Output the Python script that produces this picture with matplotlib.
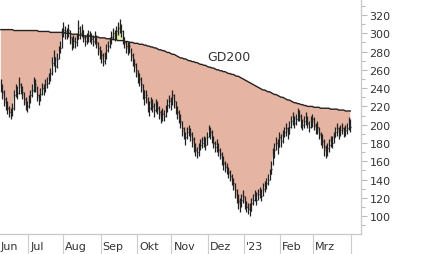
import numpy as np
import pandas as pd
import matplotlib
matplotlib.use("Agg")
import matplotlib.pyplot as plt
from matplotlib.ticker import MultipleLocator

# trading days shown in the chart
dates = pd.bdate_range("2022-06-08", "2023-03-31")

close = [242, 236, 228, 222, 218, 214, 212, 218, 232, 238,
         235, 244, 240, 236, 228, 222, 220, 226, 232, 238,
         246, 244, 232, 228, 234, 240, 238, 244, 246, 250,
         256, 268, 274, 264, 272, 280, 284, 298, 304, 302,
         300, 304, 296, 288, 292, 290, 294, 306, 300, 304,
         296, 292, 294, 298, 296, 294, 292, 296, 290, 284,
         278, 276, 270, 274, 282, 286, 290, 296, 300, 298,
         302, 306, 310, 302, 296, 290, 286, 282, 286, 276,
         272, 266, 260, 252, 250, 244, 238, 230, 232, 222,
         218, 224, 220, 216, 222, 218, 214, 208, 212, 210,
         216, 222, 226, 224, 232, 226, 218, 214, 210, 204,
         196, 190, 186, 192, 194, 190, 184, 178, 172, 170,
         174, 178, 180, 182, 178, 186, 194, 192, 186, 180,
         176, 178, 172, 168, 164, 158, 154, 152, 148, 144,
         140, 136, 128, 122, 116, 112, 118, 122, 114, 110,
         108, 106, 114, 118, 122, 118, 124, 126, 122, 130,
         132, 136, 140, 146, 152, 168, 172, 180, 176, 186,
         182, 188, 192, 196, 190, 198, 204, 208, 202, 206,
         212, 210, 204, 200, 204, 208, 202, 198, 204, 206,
         200, 196, 198, 190, 186, 182, 176, 170, 174, 178,
         182, 180, 186, 192, 196, 190, 194, 196, 192, 194,
         196, 202, 198]

high = [250, 244, 238, 230, 226, 220, 218, 224, 238, 244,
        242, 252, 246, 242, 236, 230, 226, 232, 238, 244,
        252, 250, 242, 234, 240, 246, 244, 250, 252, 256,
        262, 274, 282, 274, 278, 286, 292, 306, 312, 308,
        306, 310, 304, 296, 298, 296, 300, 314, 308, 310,
        304, 298, 300, 304, 302, 300, 298, 302, 298, 290,
        286, 282, 278, 280, 288, 292, 296, 302, 306, 304,
        308, 312, 316, 310, 304, 296, 292, 290, 292, 284,
        278, 272, 268, 260, 256, 252, 244, 238, 238, 230,
        226, 230, 228, 224, 228, 226, 220, 216, 218, 216,
        222, 228, 232, 230, 238, 234, 226, 220, 216, 212,
        204, 198, 192, 198, 200, 196, 192, 186, 180, 176,
        180, 184, 186, 188, 186, 192, 200, 198, 194, 188,
        182, 184, 180, 174, 170, 166, 160, 158, 154, 150,
        146, 142, 136, 130, 124, 120, 124, 128, 122, 116,
        114, 114, 120, 124, 128, 126, 130, 132, 130, 136,
        138, 142, 146, 152, 160, 174, 180, 186, 184, 192,
        190, 194, 198, 202, 198, 204, 210, 214, 210, 212,
        218, 216, 212, 206, 210, 214, 210, 204, 210, 212,
        208, 202, 204, 198, 192, 190, 184, 178, 180, 184,
        188, 188, 192, 198, 202, 198, 200, 202, 198, 200,
        202, 208, 206]

low = [236, 228, 220, 216, 212, 208, 206, 210, 216, 230,
       228, 234, 234, 228, 222, 216, 214, 218, 224, 230,
       236, 236, 226, 222, 226, 232, 232, 236, 240, 244,
       248, 254, 264, 258, 262, 272, 278, 284, 296, 294,
       294, 296, 288, 282, 284, 284, 286, 294, 294, 296,
       290, 286, 288, 290, 290, 288, 286, 288, 284, 276,
       272, 268, 264, 266, 272, 280, 284, 288, 294, 292,
       294, 298, 300, 296, 288, 284, 278, 276, 278, 270,
       264, 258, 252, 246, 242, 236, 228, 222, 224, 214,
       210, 216, 214, 208, 214, 212, 206, 202, 204, 204,
       208, 214, 218, 216, 222, 218, 212, 206, 202, 196,
       188, 184, 178, 184, 188, 182, 176, 170, 166, 164,
       166, 172, 174, 176, 172, 178, 186, 184, 180, 174,
       170, 170, 166, 162, 156, 150, 148, 146, 142, 138,
       134, 128, 120, 114, 108, 104, 110, 114, 108, 104,
       102, 100, 106, 112, 116, 112, 118, 120, 116, 122,
       126, 130, 134, 140, 146, 156, 164, 172, 168, 176,
       176, 180, 186, 188, 184, 190, 196, 200, 196, 200,
       204, 204, 196, 194, 196, 200, 196, 192, 196, 198,
       194, 190, 190, 184, 178, 174, 166, 164, 166, 170,
       176, 174, 180, 186, 188, 184, 188, 190, 186, 188,
       190, 194, 192]

gd200 = [304]*8 + [303]*15 + \
    [302, 302, 302, 302, 302, 302, 302, 301, 301, 301, 301, 301, 301, 301] + \
    [301, 301, 300, 300, 300, 300, 299, 299, 299, 299, 298, 298, 298, 298, 297, 297, 297, 297] + \
    [297, 296, 296, 296, 296, 295, 295, 295, 295, 294, 294, 294, 294, 293, 293, 293, 292, 292, 292, 292, 291, 291] + \
    [291, 290, 290, 290, 289, 289, 289, 288] + \
    [288, 288, 287, 287, 286, 286] + \
    [285, 285, 284, 284, 283, 282, 282, 281, 281, 280, 279, 279, 278, 277] + \
    [277, 276, 275, 274] + \
    [273, 273, 272, 272, 271, 270, 270, 269, 269, 268, 268, 267, 266, 266, 265, 265, 264] + \
    [263, 263, 262, 262, 261, 260, 260, 259, 259, 258, 258, 257, 256, 256, 255, 255, 254, 253, 253, 252] + \
    [251, 250, 249, 248, 247, 246, 245, 244, 243, 242, 241, 240] + \
    [239, 238, 238, 237, 236, 236, 235, 234] + \
    [233, 233, 232, 231, 230, 230, 229, 228, 227, 227, 226, 225] + \
    [224, 224, 223, 223, 222, 222, 221, 221, 220, 220] + \
    [220, 220, 219, 219, 219, 219, 218, 218, 218, 218, 218] + \
    [218, 217, 217, 217, 217, 217, 216, 216, 216, 216, 215, 215, 215, 215]

month_labels = ["Jun", "Jul", "Aug", "Sep", "Okt", "Nov", "Dez", "'23", "Feb", "Mrz"]

assert len(close) == len(high) == len(low) == len(gd200) == len(dates), \
    (len(close), len(high), len(low), len(gd200), len(dates))

close = np.array(close, dtype=float)
high = np.array(high, dtype=float)
low = np.array(low, dtype=float)
gd200 = np.array(gd200, dtype=float)
x = np.arange(len(close))

fig = plt.figure(figsize=(4.26, 2.55), dpi=100)
ax = fig.add_axes([0, 20/255, 361/426, 235/255])

salmon = "#e6b4a2"
green = "#e9f0b4"
ax.fill_between(x, close, gd200, where=close <= gd200, interpolate=True,
                color=salmon, lw=0)
ax.fill_between(x, close, gd200, where=close >= gd200, interpolate=True,
                color=green, lw=0)
ax.plot(x, gd200, color="#222222", lw=1)
ax.vlines(x, low, high, color="#222222", lw=0.9)
ax.hlines(close, x, x + 0.6, color="#222222", lw=0.9)

ax.text(125, 275, "GD200", fontsize=9, color="#333333", ha="left", va="center")

ax.set_xlim(-0.5, 218.5)
ax.set_ylim(80.4, 337.5)

# y axis on the right
ax.yaxis.tick_right()
ax.yaxis.set_major_locator(MultipleLocator(20))
ax.yaxis.set_minor_locator(MultipleLocator(10))
ax.set_yticks(np.arange(100, 321, 20))
ax.tick_params(axis="y", which="major", length=4, width=0.8, color="#bbbbbb",
               labelsize=8, labelcolor="#333333", pad=2)
ax.tick_params(axis="y", which="minor", length=3, width=0.8, color="#bbbbbb")

# month separators below the plot
months = dates.to_period("M")
starts = [i for i in range(len(dates)) if i == 0 or months[i] != months[i - 1]]
seps = [s - 0.5 for s in starts[1:]] + [len(dates) - 0.5]
ax.set_xticks(seps)
ax.set_xticklabels([])
ax.tick_params(axis="x", which="major", length=14.5, width=0.8, color="#cccccc")
for s, lab in zip(starts, month_labels):
    ax.annotate(lab, xy=(s - 0.5, 0), xycoords=("data", "axes fraction"),
                xytext=(1.5 if s > 0 else 0.5, -8.5), textcoords="offset points",
                fontsize=8, color="#333333", ha="left", va="center")

for side in ["top", "left"]:
    ax.spines[side].set_visible(False)
ax.spines["right"].set_color("#c8c8c8")
ax.spines["bottom"].set_color("#c8c8c8")
ax.spines["right"].set_linewidth(0.9)
ax.spines["bottom"].set_linewidth(0.9)

fig.savefig("out.png", dpi=100)
